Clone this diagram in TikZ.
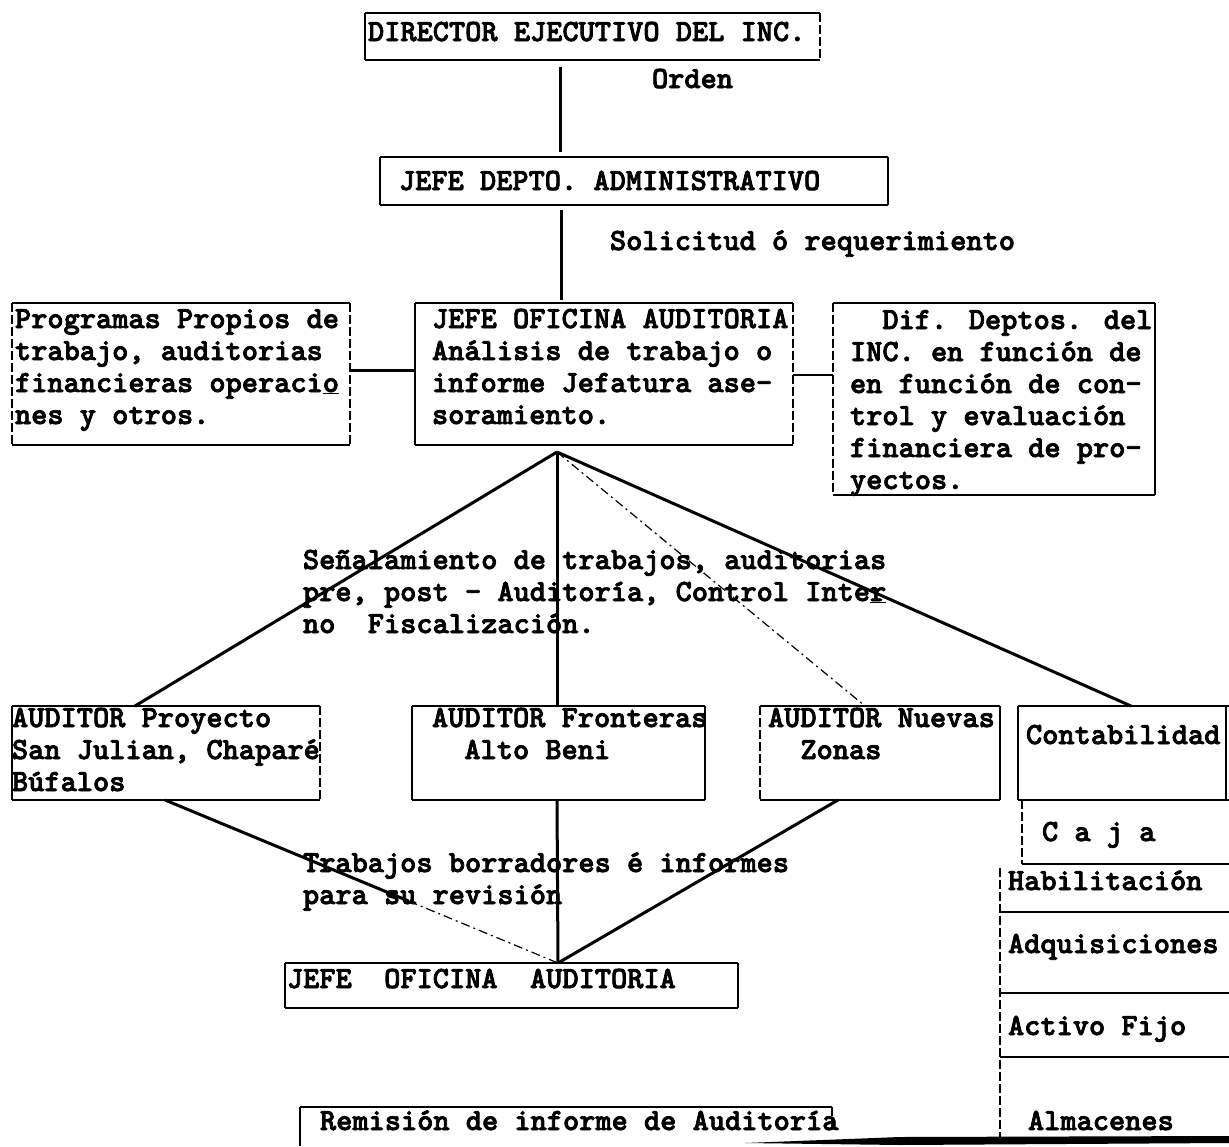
\documentclass[tikz,border=0pt]{standalone}
\usepackage{fontspec}
\newfontfamily\typer{lmmonolt10-bold.otf}[FakeBold=2.5]
\usetikzlibrary{calc}

\begin{document}
\begin{tikzpicture}[x=1pt,y=-1pt,
  area/.style={anchor=north west,inner sep=0pt,outer sep=0pt,draw=none},
  heavy/.style={line width=2.6pt},
  side/.style={line width=1.5pt},
  broken/.style={line width=1.4pt,dash pattern=on 9pt off 3pt},
  conn/.style={line width=3pt},
  faint/.style={line width=1.2pt,dash pattern=on 9pt off 4pt on 2pt off 4pt},
  % multi-line texts are anchored at the baseline of their last line
  txt/.style={anchor=base west,inner sep=0pt,outer sep=0pt,align=left,
              font=\typer\fontsize{30.86}{32}\selectfont}]

\useasboundingbox (0,0) rectangle (1229,1146);
\fill[white] (0,0) rectangle (1229,1146);

% ---------- box areas ----------
\node[area,minimum width=455pt,minimum height=47pt]  (dir)   at (365,13)   {};
\node[area,minimum width=508pt,minimum height=48pt]  (jdep)  at (380,157)  {};
\node[area,minimum width=338pt,minimum height=142pt] (prog)  at (12,303)   {};
\node[area,minimum width=378pt,minimum height=142pt] (jofi)  at (415,303)  {};
\node[area,minimum width=322pt,minimum height=192pt] (dif)   at (833,303)  {};
\node[area,minimum width=308pt,minimum height=94pt]  (aproy) at (12,706)   {};
\node[area,minimum width=293pt,minimum height=94pt]  (afron) at (412,706)  {};
\node[area,minimum width=240pt,minimum height=94pt]  (anuev) at (760,706)  {};
\node[area,minimum width=211pt,minimum height=94pt]  (conta) at (1018,706) {};
\node[area,minimum width=207pt,minimum height=64pt]  (caja)  at (1022,800) {};
\node[area,minimum width=229pt,minimum height=48pt]  (habil) at (1000,864) {};
\node[area,minimum width=229pt,minimum height=81pt]  (adq)   at (1000,912) {};
\node[area,minimum width=229pt,minimum height=64pt]  (act)   at (1000,993) {};
\node[area,minimum width=229pt,minimum height=84pt]  (alm)   at (1000,1057){};
\node[area,minimum width=453pt,minimum height=45pt]  (jofi2) at (285,963)  {};
\node[area,minimum width=532pt,minimum height=39pt]  (remis) at (300,1107) {};

% ---------- box outlines ----------
\draw[heavy] (dir.north west) -- (dir.north east);
\draw[heavy] (dir.south west) -- (dir.south east);
\draw[side]  (dir.north west) -- (dir.south west);
\draw[broken] (dir.north east) -- (dir.south east);

\draw[heavy] (jdep.north west) -- (jdep.north east);
\draw[heavy] (jdep.south west) -- (jdep.south east);
\draw[side]  (jdep.north west) -- (jdep.south west);
\draw[side]  (jdep.north east) -- (jdep.south east);

\draw[heavy] (prog.north west) -- (prog.north east);
\draw[heavy] (prog.south west) -- (prog.south east);
\draw[broken] (prog.north west) -- (prog.south west);
\draw[broken] (prog.north east) -- (prog.south east);

\draw[heavy] (jofi.north west) -- (jofi.north east);
\draw[heavy] (jofi.south west) -- (jofi.south east);
\draw[side]  (jofi.north west) -- (jofi.south west);
\draw[broken] (jofi.north east) -- (jofi.south east);

\draw[heavy] (dif.north west) -- (dif.north east);
\draw[heavy] (dif.south west) -- (dif.south east);
\draw[broken] (dif.north west) -- (dif.south west);
\draw[side]  (dif.north east) -- (dif.south east);

\draw[heavy] (aproy.north west) -- (aproy.north east);
\draw[heavy] (aproy.south west) -- (aproy.south east);
\draw[side]  (aproy.north west) -- (aproy.south west);
\draw[broken] (aproy.north east) -- (aproy.south east);

\draw[heavy] (afron.north west) -- (afron.north east);
\draw[heavy] (afron.south west) -- (afron.south east);
\draw[side]  (afron.north west) -- (afron.south west);
\draw[side]  (afron.north east) -- (afron.south east);

\draw[heavy] (anuev.north west) -- (anuev.north east);
\draw[heavy] (anuev.south west) -- (anuev.south east);
\draw[broken] (anuev.north west) -- (anuev.south west);
\draw[side]  (anuev.north east) -- (anuev.south east);

\draw[heavy] (conta.north west) -- (conta.north east);
\draw[heavy] (conta.south west) -- (conta.south east);
\draw[side]  (conta.north west) -- (conta.south west);
\draw[side]  ([xshift=-3pt]conta.north east) -- ([xshift=-3pt]conta.south east);

\draw[heavy] (caja.south west) -- (caja.south east);
\draw[broken] (caja.north west) -- (caja.south west);

\draw[broken] ([yshift=-4pt]habil.north west) -- (alm.south west);
\draw[heavy] (habil.south west) -- (habil.south east);
\draw[heavy] (adq.south west) -- (adq.south east);
\draw[heavy] (act.south west) -- (act.south east);
% heavy tapered rule closing the column at the foot of the page
\fill (745,1143) -- (900,1137) -- (1229,1136) -- (1229,1143) -- (900,1145) -- cycle;

\draw[heavy] (jofi2.north west) -- (jofi2.north east);
\draw[heavy] (jofi2.south west) -- (jofi2.south east);
\draw[side]  (jofi2.north west) -- (jofi2.south west);
\draw[side]  (jofi2.north east) -- (jofi2.south east);

\draw[heavy] (remis.north west) -- (remis.north east);
\draw[side]  (remis.north west) -- (remis.south west);
\draw[broken] (remis.north east) -- ([yshift=-24pt]remis.north east);

% ---------- texts ----------
\node[txt] (dirT)   at (368,41)  {DIRECTOR EJECUTIVO DEL INC.};
\node[txt] (orden)  at (652,88)  {Orden};
\node[txt] (jdepT)  at (399,190) {JEFE DEPTO. ADMINISTRATIVO};
\node[txt] (solic)  at (610,250) {Solicitud ó requerimiento};
\node[txt] (progT)  at (15,424)  {Programas Propios de\\trabajo, auditorias\\financieras operaci\underline{o}\\nes y otros.};
\node[txt] (jofiT)  at (432,424) {JEFE OFICINA AUDITORIA\\Análisis de trabajo o\\informe Jefatura ase-\\soramiento.};
\node[txt] (difT)   at (850,489) {\hphantom{XX}Dif. Deptos. del\\INC. en función de\\en función de con-\\trol y evaluación\\financiera de pro-\\yectos.};
\node[txt] (senal)  at (303,633) {Señalamiento de trabajos, auditorias\\pre, post - Auditoría, Control Inte\underline{r}\\no\ \ Fiscalización.};
\node[txt] (aproyT) at (12,791)  {AUDITOR Proyecto\\San Julian, Chaparé\\Búfalos};
\node[txt] (afronT) at (432,759) {AUDITOR Fronteras\\\hphantom{XX}Alto Beni};
\node[txt] (anuevT) at (768,759) {AUDITOR Nuevas\\\hphantom{XX}Zonas};
\node[txt] (contaT) at (1026,744) {Contabilidad};
\node[txt] (cajaT)  at (1042,841) {C a j a};
\node[txt] (trab)   at (303,904) {Trabajos borradores é informes\\para su revisión};
\node[txt] (habT)   at (1008,890) {Habilitación};
\node[txt] (adqT)   at (1008,953) {Adquisiciones};
\node[txt] (actT)   at (1008,1035) {Activo Fijo};
\node[txt] (almT)   at (1028,1130) {Almacenes};
\node[txt] (jofi2T) at (287,988) {JEFE\ \ OFICINA\ \ AUDITORIA};
\node[txt] (remisT) at (320,1130) {Remisión de informe de Auditoría};

% ---------- connectors ----------
\draw[conn] ([xshift=195pt,yshift=-7pt]dir.south west) -- ([xshift=180pt,yshift=5pt]jdep.north west);
\draw[conn] ([xshift=181pt,yshift=-5pt]jdep.south west) -- ([xshift=146pt,yshift=3pt]jofi.north west);
\draw[conn] ([yshift=4pt]prog.east) -- ([yshift=4pt]jofi.west);
\draw[side] ([yshift=-1pt]jofi.east) -- ([yshift=-1pt]jofi.east -| dif.west);

\coordinate (hub) at ([xshift=142pt,yshift=-7pt]jofi.south west);
\draw[conn]  (hub) -- ([xshift=123pt]aproy.north west);
\draw[conn]  (hub) -- ([xshift=145pt]afron.north west);
\draw[faint] (hub) -- ([xshift=105pt]anuev.north west);
\draw[conn]  (hub) -- ([xshift=113pt]conta.north west);

\coordinate (hub2) at ([xshift=273pt]jofi2.north west);
\coordinate (brk) at ($([xshift=153pt]aproy.south west)!0.62!(hub2)$);
\draw[conn]  ([xshift=153pt]aproy.south west) -- (brk);
\draw[faint] (brk) -- (hub2);
\draw[conn]  ([xshift=145pt]afron.south west) -- (hub2);
\draw[conn]  ([xshift=78pt]anuev.south west) -- (hub2);

\end{tikzpicture}
\end{document}
